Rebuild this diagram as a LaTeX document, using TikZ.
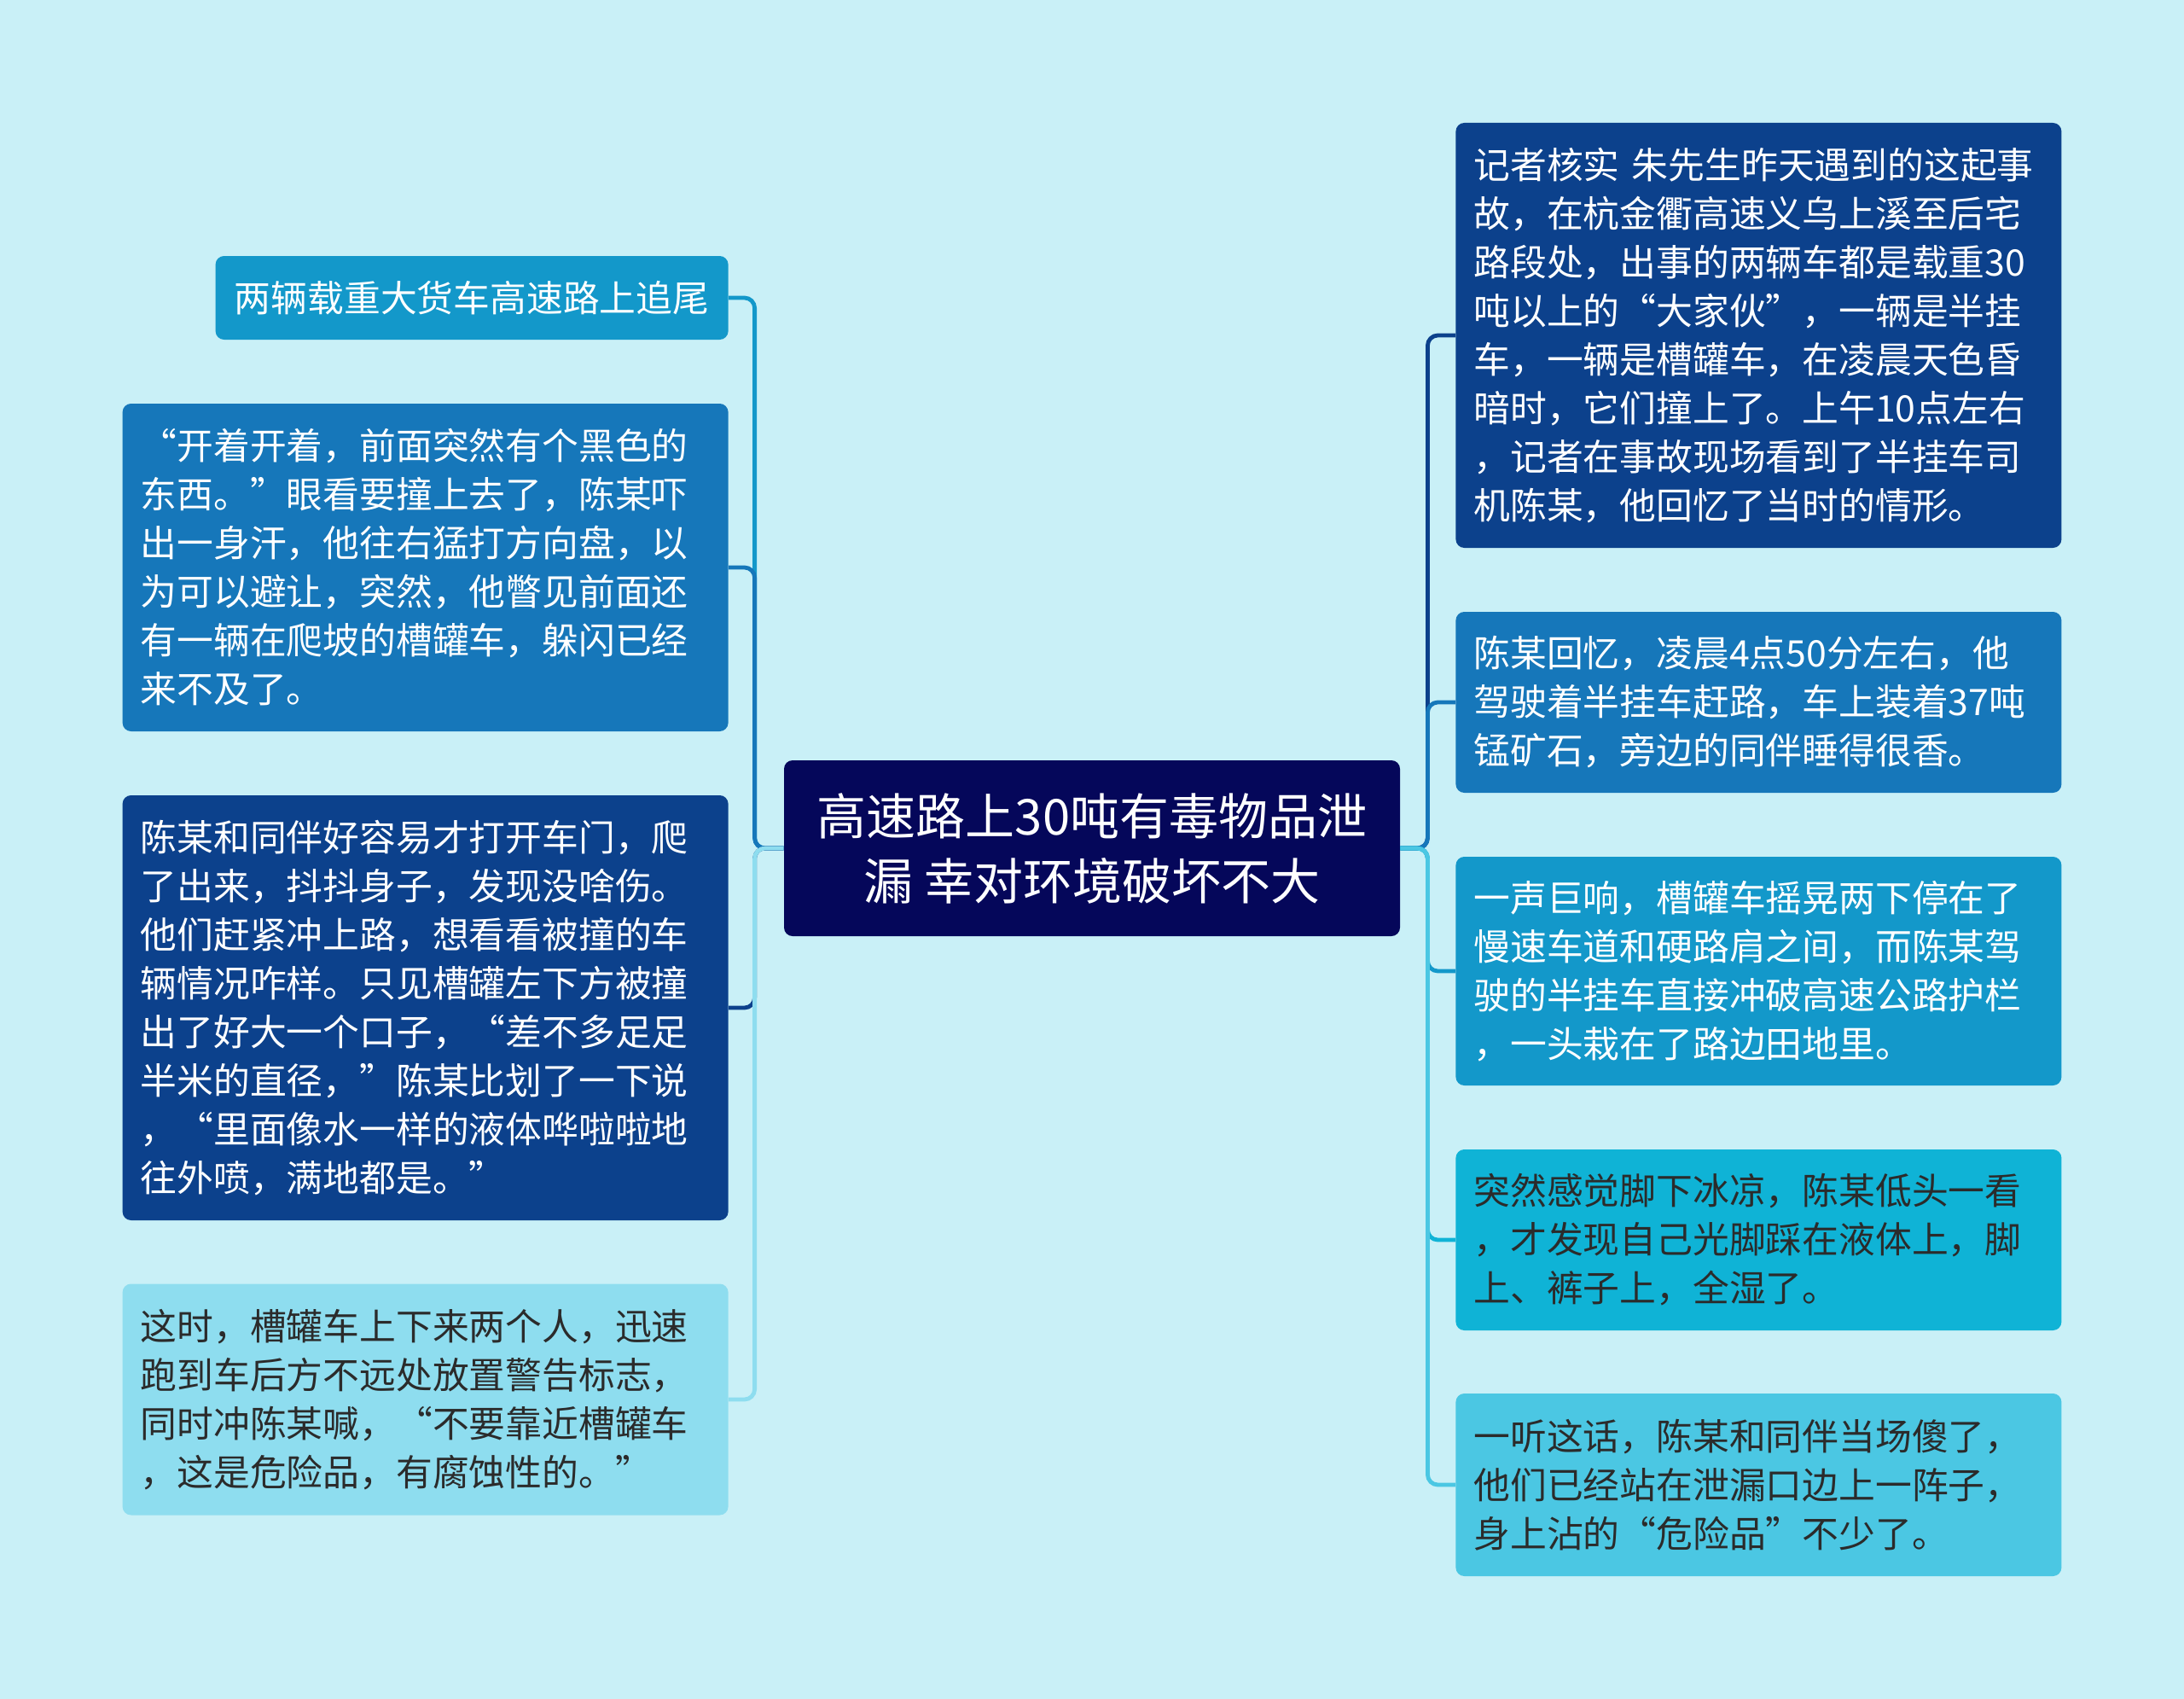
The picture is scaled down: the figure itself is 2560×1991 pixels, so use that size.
\documentclass[tikz,border=0pt]{standalone}
\usepackage{fontspec}
\setmainfont{Noto Sans CJK SC}
\usepackage{xcolor}
\definecolor{bgcol}{HTML}{C9F0F7}
\definecolor{midcol}{HTML}{05075A}
\definecolor{navycol}{HTML}{0C418C}
\definecolor{deepcol}{HTML}{1677BA}
\definecolor{seacol}{HTML}{1398CA}
\definecolor{cyancol}{HTML}{0FB3D6}
\definecolor{skycol}{HTML}{4BC7E3}
\definecolor{palecol}{HTML}{8EDDEF}
\definecolor{inkcol}{HTML}{2B2B2B}

\begin{document}
\begin{tikzpicture}[x=0.5pt,y=-0.5pt,
    box/.style={rounded corners=5pt, inner xsep=10.5pt, inner ysep=0pt, text width=334pt, align=left, text=white, font=\fontsize{21.4}{28.5}\selectfont},
    link/.style={line width=2.4pt, rounded corners=6pt}]
      \fill[bgcol] (0,0) rectangle (2560,1991);
      \node[fill=midcol, rounded corners=5pt, minimum width=361pt, minimum height=103pt, align=center, text=white, font=\fontsize{29}{38}\selectfont] (mid) at (1280,994) {高速路上30吨有毒物品泄\\漏 幸对环境破坏不大};
      \node[box, fill=seacol, anchor=east, text width=279.5pt, align=center, minimum height=49pt] (l1) at (854,349) {两辆载重大货车高速路上追尾};
      \node[box, fill=deepcol, anchor=east, minimum height=192pt] (l2) at (854,665) {“开着开着，前面突然有个黑色的\\东西。”眼看要撞上去了，陈某吓\\出一身汗，他往右猛打方向盘，以\\为可以避让，突然，他瞥见前面还\\有一辆在爬坡的槽罐车，躲闪已经\\来不及了。};
      \node[box, fill=navycol, anchor=east, minimum height=249pt] (l3) at (854,1181) {陈某和同伴好容易才打开车门，爬\\了出来，抖抖身子，发现没啥伤。\\他们赶紧冲上路，想看看被撞的车\\辆情况咋样。只见槽罐左下方被撞\\出了好大一个口子，“差不多足足\\半米的直径，”陈某比划了一下说\\，“里面像水一样的液体哗啦啦地\\往外喷，满地都是。”};
      \node[box, fill=palecol, text=inkcol, anchor=east, minimum height=135.5pt] (l4) at (854,1640) {这时，槽罐车上下来两个人，迅速\\跑到车后方不远处放置警告标志，\\同时冲陈某喊，“不要靠近槽罐车\\，这是危险品，有腐蚀性的。”};
      \node[box, fill=navycol, anchor=west, minimum height=249pt] (r1) at (1706,393) {记者核实 朱先生昨天遇到的这起事\\故，在杭金衢高速义乌上溪至后宅\\路段处，出事的两辆车都是载重30\\吨以上的“大家伙”，一辆是半挂\\车，一辆是槽罐车，在凌晨天色昏\\暗时，它们撞上了。上午10点左右\\，记者在事故现场看到了半挂车司\\机陈某，他回忆了当时的情形。};
      \node[box, fill=deepcol, anchor=west, minimum height=106pt] (r2) at (1706,823) {陈某回忆，凌晨4点50分左右，他\\驾驶着半挂车赶路，车上装着37吨\\锰矿石，旁边的同伴睡得很香。};
      \node[box, fill=seacol, anchor=west, minimum height=134pt] (r3) at (1706,1138) {一声巨响，槽罐车摇晃两下停在了\\慢速车道和硬路肩之间，而陈某驾\\驶的半挂车直接冲破高速公路护栏\\，一头栽在了路边田地里。};
      \node[box, fill=cyancol, text=inkcol, anchor=west, minimum height=106pt] (r4) at (1706,1453) {突然感觉脚下冰凉，陈某低头一看\\，才发现自己光脚踩在液体上，脚\\上、裤子上，全湿了。};
      \node[box, fill=skycol, text=inkcol, anchor=west, minimum height=107pt] (r5) at (1706,1740) {一听这话，陈某和同伴当场傻了，\\他们已经站在泄漏口边上一阵子，\\身上沾的“危险品”不少了。};
      \draw[link, seacol] (mid.west) -- ++(-34,0) |- (l1.east);
      \draw[link, deepcol] (mid.west) -- ++(-34,0) |- (l2.east);
      \draw[link, navycol] (mid.west) -- ++(-34,0) |- (l3.east);
      \draw[link, palecol] (mid.west) -- ++(-34,0) |- (l4.east);
      \draw[link, navycol] (mid.east) -- ++(32,0) |- (r1.west);
      \draw[link, deepcol] (mid.east) -- ++(32,0) |- (r2.west);
      \draw[link, seacol] (mid.east) -- ++(32,0) |- (r3.west);
      \draw[link, cyancol] (mid.east) -- ++(32,0) |- (r4.west);
      \draw[link, skycol] (mid.east) -- ++(32,0) |- (r5.west);
    \end{tikzpicture}
\end{document}
